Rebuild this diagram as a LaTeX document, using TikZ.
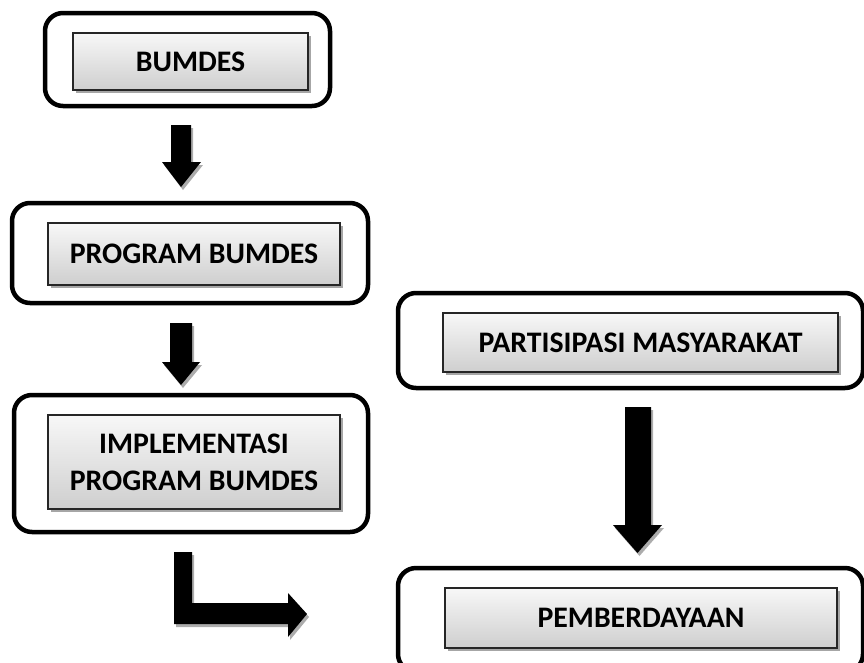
\documentclass[tikz,border=0pt]{standalone}
\usepackage{fontspec}
\setmainfont{Carlito}
\usetikzlibrary{shadows}
\begin{document}
\begin{tikzpicture}[x=1pt,y=-1pt,
  outerbox/.style={draw=black,line width=4.5pt,rounded corners=18pt,inner sep=0pt},
  innerbox/.style={draw=black!85,line width=1.5pt,top color=gray!6,bottom color=gray!38,
    inner sep=0pt,align=center,font=\bfseries\fontsize{29.8}{37}\selectfont,
    drop shadow={shadow xshift=3pt,shadow yshift=-3pt,fill=gray!70,opacity=1}},
  arrowshade/.style={fill=gray!65,shift={(2,3)}},
  arrowbody/.style={fill=black}]
\useasboundingbox (0,0) rectangle (864,662);
\clip (0,0) rectangle (864,662);
% outer rounded frames
\node[outerbox,minimum width=285pt,minimum height=93pt] (o1) at (187.5,59.5) {};
\node[outerbox,minimum width=356pt,minimum height=100pt] (o2) at (190,253) {};
\node[outerbox,minimum width=354pt,minimum height=137pt] (o3) at (191,463.5) {};
\node[outerbox,minimum width=465pt,minimum height=95pt] (o4) at (630.5,340.5) {};
\node[outerbox,minimum width=465pt,minimum height=104pt] (o5) at (630.5,620) {};
% inner labelled boxes
\node[innerbox,minimum width=235pt,minimum height=57pt] (b1) at (190.5,61.5) {BUMDES};
\node[innerbox,minimum width=292pt,minimum height=62pt] (b2) at (194,254) {PROGRAM BUMDES};
\node[innerbox,minimum width=292pt,minimum height=94pt] (b3) at (194,462) {IMPLEMENTASI\\PROGRAM BUMDES};
\node[innerbox,minimum width=395pt,minimum height=59pt] (b4) at (640.5,342.5) {PARTISIPASI MASYARAKAT};
\node[innerbox,minimum width=392pt,minimum height=60pt] (b5) at (641,618) {PEMBERDAYAAN};
% block arrows
\foreach \st in {arrowshade,arrowbody}{
  \fill[\st] (171,125) -- (191,125) -- (191,162) -- (201,162) -- (181,187) -- (162,162) -- (171,162) -- cycle;
  \fill[\st] (170,323) -- (192,323) -- (192,362) -- (200,362) -- (181,385) -- (162,362) -- (170,362) -- cycle;
  \fill[\st] (625,407) -- (651,407) -- (651,525) -- (662,525) -- (637.5,553) -- (613,525) -- (625,525) -- cycle;
  \fill[\st] (174,552) -- (192,552) -- (192,603) -- (288,603) -- (288,593) -- (307,614) -- (288,637) -- (288,624) -- (174,624) -- cycle;
}
\end{tikzpicture}
\end{document}
